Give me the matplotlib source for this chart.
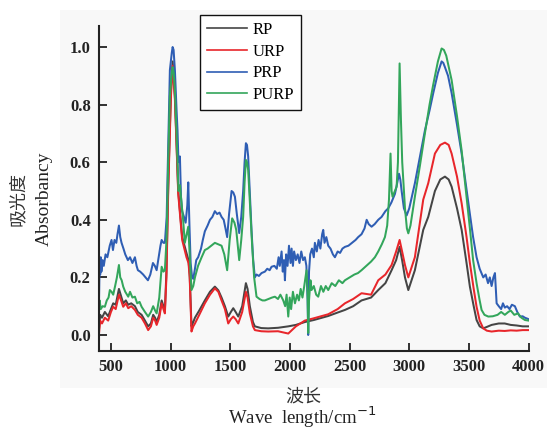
import matplotlib
matplotlib.use("Agg")
import matplotlib.pyplot as plt
from matplotlib.patches import Rectangle

# ---------------------------------------------------------------------------
# Data
# ---------------------------------------------------------------------------

rp_x = [400, 410, 425, 449, 477, 500, 519, 540, 567, 585, 603, 625, 645, 670, 701, 725,
        757, 785, 812, 835, 854, 870, 883, 905, 925, 940, 952, 965, 980, 1003, 1017, 1036,
        1064, 1097, 1133, 1150, 1160, 1175, 1190, 1204, 1240, 1287, 1330, 1371, 1400, 1427,
        1455, 1483, 1505, 1525, 1545, 1567, 1600, 1631, 1645, 1664, 1690, 1706, 1760, 1818,
        1900, 1986, 2050, 2125, 2200, 2321, 2400, 2461, 2530, 2600, 2680, 2740, 2800, 2852,
        2890, 2919, 2940, 2964, 2992, 3047, 3117, 3159, 3215, 3260, 3299, 3330, 3355, 3400,
        3439, 3480, 3508, 3540, 3564, 3590, 3620, 3650, 3690, 3750, 3800, 3850, 3900, 3950,
        4000]
rp_y = [0.02, 0.07, 0.06, 0.08, 0.065, 0.09, 0.11, 0.105, 0.16, 0.135, 0.11, 0.12, 0.105,
        0.11, 0.10, 0.08, 0.07, 0.05, 0.03, 0.04, 0.07, 0.06, 0.045, 0.07, 0.12, 0.10, 0.085,
        0.22, 0.52, 0.85, 0.95, 0.83, 0.50, 0.34, 0.285, 0.26, 0.21, 0.03, 0.045, 0.06, 0.085,
        0.12, 0.15, 0.168, 0.155, 0.13, 0.10, 0.064, 0.08, 0.093, 0.08, 0.064, 0.10, 0.18,
        0.16, 0.10, 0.045, 0.03, 0.024, 0.023, 0.025, 0.03, 0.035, 0.045, 0.052, 0.066,
        0.078, 0.087, 0.10, 0.12, 0.13, 0.156, 0.18, 0.225, 0.26, 0.306, 0.26, 0.20, 0.156,
        0.225, 0.365, 0.41, 0.50, 0.54, 0.55, 0.54, 0.515, 0.44, 0.365, 0.25, 0.168, 0.10,
        0.052, 0.03, 0.023, 0.028, 0.035, 0.04, 0.04, 0.035, 0.033, 0.03, 0.03]

urp_x = rp_x
urp_y = [0.005, 0.05, 0.04, 0.06, 0.05, 0.08, 0.098, 0.09, 0.14, 0.12, 0.098, 0.11, 0.093,
         0.10, 0.087, 0.07, 0.06, 0.04, 0.017, 0.03, 0.06, 0.05, 0.035, 0.06, 0.11, 0.09,
         0.075, 0.20, 0.50, 0.83, 0.935, 0.82, 0.49, 0.33, 0.27, 0.25, 0.20, 0.012, 0.03,
         0.04, 0.07, 0.11, 0.14, 0.162, 0.15, 0.12, 0.09, 0.04, 0.055, 0.064, 0.055, 0.04,
         0.08, 0.15, 0.13, 0.075, 0.03, 0.017, 0.013, 0.012, 0.013, 0.005, 0.03, 0.05, 0.058,
         0.072, 0.09, 0.11, 0.125, 0.145, 0.14, 0.19, 0.21, 0.243, 0.29, 0.33, 0.29, 0.243,
         0.20, 0.27, 0.47, 0.527, 0.63, 0.66, 0.668, 0.66, 0.63, 0.55, 0.457, 0.34, 0.25,
         0.16, 0.098, 0.05, 0.023, 0.015, 0.012, 0.015, 0.014, 0.016, 0.015, 0.017, 0.017]

prp_x = [400, 405, 410, 415, 420, 430, 440, 455, 470, 490, 505, 517, 530, 545, 555, 567,
         578, 589, 605, 620, 642, 660, 680, 701, 715, 726, 745, 770, 790, 810, 830, 852, 868,
         883, 900, 915, 925, 940, 952, 967, 980, 994, 1010, 1017, 1025, 1036, 1050, 1058,
         1066, 1078, 1087, 1097, 1112, 1126, 1140, 1148, 1158, 1168, 1180, 1190, 1204, 1215,
         1231, 1255, 1270, 1287, 1310, 1330, 1350, 1371, 1390, 1410, 1427, 1445, 1460, 1474,
         1490, 1511, 1525, 1539, 1555, 1575, 1592, 1608, 1620, 1631, 1640, 1650, 1665, 1678,
         1692, 1706, 1720, 1740, 1762, 1790, 1810, 1830, 1846, 1870, 1890, 1905, 1915, 1930,
         1940, 1950, 1958, 1968, 1980, 1992, 2005, 2014, 2025, 2035, 2050, 2065, 2080, 2095,
         2110, 2125, 2138, 2148, 2153, 2160, 2170, 2185, 2200, 2209, 2225, 2240, 2255, 2270,
         2279, 2290, 2305, 2321, 2340, 2360, 2377, 2400, 2420, 2440, 2461, 2490, 2520, 2550,
         2572, 2600, 2625, 2643, 2660, 2684, 2710, 2740, 2768, 2800, 2824, 2850, 2880, 2900,
         2914, 2925, 2936, 2955, 2978, 3000, 3047, 3090, 3131, 3170, 3201, 3240, 3271, 3285,
         3299, 3325, 3355, 3400, 3439, 3475, 3508, 3535, 3564, 3590, 3620, 3640, 3660, 3675,
         3690, 3705, 3718, 3725, 3732, 3750, 3770, 3785, 3801, 3820, 3840, 3860, 3885, 3905,
         3927, 3950, 3969, 4000]
prp_y = [0.12, 0.25, 0.21, 0.27, 0.22, 0.26, 0.24, 0.28, 0.27, 0.31, 0.33, 0.295, 0.33,
         0.32, 0.35, 0.38, 0.34, 0.32, 0.30, 0.28, 0.26, 0.27, 0.25, 0.27, 0.24, 0.225, 0.22,
         0.21, 0.20, 0.19, 0.21, 0.25, 0.24, 0.225, 0.27, 0.31, 0.33, 0.32, 0.32, 0.41, 0.65,
         0.92, 0.98, 1.0, 0.99, 0.92, 0.78, 0.71, 0.60, 0.62, 0.48, 0.43, 0.41, 0.39, 0.45,
         0.53, 0.38, 0.25, 0.20, 0.195, 0.23, 0.26, 0.27, 0.30, 0.33, 0.36, 0.38, 0.40, 0.41,
         0.43, 0.42, 0.425, 0.41, 0.40, 0.37, 0.34, 0.42, 0.50, 0.495, 0.48, 0.42, 0.354,
         0.41, 0.50, 0.60, 0.666, 0.66, 0.62, 0.48, 0.365, 0.26, 0.20, 0.21, 0.205, 0.215,
         0.22, 0.23, 0.225, 0.237, 0.24, 0.23, 0.27, 0.24, 0.29, 0.22, 0.26, 0.19, 0.28, 0.24,
         0.31, 0.25, 0.30, 0.24, 0.29, 0.26, 0.28, 0.25, 0.29, 0.26, 0.27, 0.24, 0.12, 0.0,
         0.22, 0.28, 0.30, 0.27, 0.32, 0.29, 0.33, 0.30, 0.35, 0.365, 0.32, 0.34, 0.31, 0.30,
         0.28, 0.27, 0.29, 0.285, 0.30, 0.306, 0.31, 0.32, 0.33, 0.34, 0.35, 0.37, 0.40, 0.385,
         0.376, 0.385, 0.40, 0.41, 0.43, 0.44, 0.46, 0.49, 0.53, 0.56, 0.54, 0.50, 0.44, 0.415,
         0.44, 0.527, 0.62, 0.71, 0.78, 0.84, 0.91, 0.95, 0.945, 0.93, 0.90, 0.84, 0.73, 0.63,
         0.52, 0.42, 0.34, 0.27, 0.23, 0.20, 0.21, 0.18, 0.20, 0.17, 0.20, 0.215, 0.16, 0.11,
         0.10, 0.09, 0.11, 0.095, 0.10, 0.09, 0.105, 0.10, 0.08, 0.064, 0.065, 0.06, 0.055]

purp_x = [400, 405, 415, 430, 449, 465, 480, 491, 505, 519, 535, 550, 567, 578, 590, 603,
          620, 645, 660, 680, 701, 720, 740, 757, 785, 812, 835, 854, 870, 883, 905, 925, 940,
          952, 967, 980, 994, 1010, 1017, 1026, 1036, 1050, 1058, 1066, 1078, 1091, 1105,
          1119, 1135, 1148, 1160, 1175, 1190, 1204, 1230, 1260, 1287, 1310, 1340, 1371, 1400,
          1427, 1450, 1474, 1495, 1516, 1535, 1550, 1575, 1592, 1608, 1620, 1631, 1640, 1650,
          1667, 1684, 1700, 1720, 1745, 1770, 1790, 1820, 1850, 1874, 1900, 1920, 1944, 1960,
          1972, 1986, 1998, 2010, 2025, 2042, 2060, 2075, 2090, 2105, 2120, 2139, 2148, 2153,
          2160, 2172, 2181, 2200, 2220, 2237, 2260, 2280, 2300, 2321, 2350, 2380, 2410, 2440,
          2461, 2500, 2540, 2570, 2600, 2640, 2680, 2712, 2740, 2770, 2796, 2815, 2830, 2843,
          2852, 2860, 2880, 2894, 2905, 2919, 2930, 2941, 2964, 2980, 2992, 3010, 3047, 3090,
          3131, 3170, 3201, 3240, 3271, 3290, 3310, 3355, 3400, 3439, 3475, 3508, 3535, 3564,
          3590, 3606, 3630, 3662, 3700, 3740, 3770, 3801, 3830, 3850, 3880, 3910, 3940, 3969,
          4000]
purp_y = [0.08, 0.12, 0.09, 0.10, 0.098, 0.12, 0.13, 0.156, 0.15, 0.14, 0.17, 0.20, 0.243,
          0.20, 0.19, 0.168, 0.15, 0.133, 0.15, 0.13, 0.133, 0.11, 0.115, 0.098, 0.08, 0.064,
          0.08, 0.10, 0.085, 0.075, 0.13, 0.237, 0.22, 0.225, 0.34, 0.60, 0.83, 0.91, 0.93,
          0.91, 0.85, 0.70, 0.60, 0.50, 0.52, 0.46, 0.40, 0.32, 0.35, 0.376, 0.28, 0.156, 0.17,
          0.20, 0.24, 0.27, 0.295, 0.30, 0.31, 0.32, 0.315, 0.31, 0.28, 0.225, 0.33, 0.405,
          0.39, 0.365, 0.26, 0.33, 0.41, 0.53, 0.608, 0.60, 0.573, 0.44, 0.306, 0.20, 0.133,
          0.125, 0.12, 0.12, 0.125, 0.13, 0.133, 0.125, 0.14, 0.12, 0.10, 0.14, 0.064, 0.13,
          0.09, 0.15, 0.11, 0.14, 0.12, 0.16, 0.13, 0.17, 0.225, 0.15, 0.007, 0.12, 0.19,
          0.156, 0.17, 0.14, 0.133, 0.17, 0.15, 0.17, 0.156, 0.18, 0.17, 0.19, 0.18, 0.19,
          0.20, 0.21, 0.215, 0.225, 0.24, 0.255, 0.27, 0.29, 0.315, 0.34, 0.38, 0.47, 0.63,
          0.50, 0.48, 0.50, 0.515, 0.60, 0.943, 0.75, 0.60, 0.44, 0.37, 0.353, 0.38, 0.48,
          0.59, 0.70, 0.80, 0.87, 0.95, 0.995, 0.99, 0.97, 0.885, 0.76, 0.64, 0.50, 0.37, 0.26,
          0.18, 0.12, 0.087, 0.07, 0.064, 0.065, 0.07, 0.08, 0.07, 0.08, 0.085, 0.07, 0.075,
          0.06, 0.052, 0.05]

labels = ["RP", "URP", "PRP", "PURP"]
colors = ["#454545", "#e8262b", "#2f5eb4", "#33a65b"]

x_ticks = [500, 1000, 1500, 2000, 2500, 3000, 3500, 4000]
y_ticks = [0.0, 0.2, 0.4, 0.6, 0.8, 1.0]

# ---------------------------------------------------------------------------
# Figure
# ---------------------------------------------------------------------------

SERIF = ["Liberation Serif", "DejaVu Serif"]
CJK = ["Noto Sans CJK SC", "DejaVu Sans"]

fig = plt.figure(figsize=(5.47, 4.32), dpi=100)
# light grey panel behind the plot (keep it under the axes)
fig.patches.append(Rectangle((60 / 547, 44 / 432), 1 - 60 / 547, 378 / 432,
                             transform=fig.transFigure, facecolor="#f8f8f8",
                             edgecolor="none", zorder=-10))

ax = fig.add_axes([99 / 547, 81 / 432, 429.6 / 547, 325 / 432])
ax.set_facecolor("none")

series = [(rp_x, rp_y), (urp_x, urp_y), (prp_x, prp_y), (purp_x, purp_y)]
for (xs, ys), lbl, c in zip(series, labels, colors):
    ax.plot(xs, ys, color=c, lw=1.45, label=lbl)

ax.set_xlim(400, 4000)
ax.set_ylim(-0.0556, 1.073)
ax.set_xticks(x_ticks)
ax.set_yticks(y_ticks)
ax.set_yticklabels([f"{v:.1f}" for v in y_ticks])

for side in ("top", "right"):
    ax.spines[side].set_visible(False)
for side in ("left", "bottom"):
    ax.spines[side].set_linewidth(1.5)
    ax.spines[side].set_color("#222222")

ax.tick_params(direction="in", length=6, width=1.3, color="#222222", pad=6)
for t in ax.get_xticklabels() + ax.get_yticklabels():
    t.set_family(SERIF)
    t.set_fontweight("bold")
    t.set_fontsize(12)
    t.set_color("#222222")

leg = ax.legend(loc="upper left", bbox_to_anchor=(200 / 547, 1 - 15 / 432),
                bbox_transform=fig.transFigure, borderaxespad=0,
                prop={"family": SERIF, "size": 12}, frameon=True, fancybox=False,
                framealpha=1, edgecolor="#111111", handlelength=2.4,
                handletextpad=0.35, labelspacing=0.35, borderpad=0.4)
leg.get_frame().set_linewidth(1.0)
for line in leg.get_lines():
    line.set_linewidth(1.2)

# axis titles (Chinese + English, two lines each)
fig.text(18 / 547, 1 - 199 / 432, "吸光度", rotation=90, ha="center", va="center",
         family=CJK, fontsize=13, color="#333333")
fig.text(44 / 547, 1 - 199 / 432, "Absorbancy", rotation=90, ha="center", va="center",
         family=SERIF, fontsize=14, color="#222222")
fig.text(303 / 547, 1 - 397 / 432, "波长", ha="center", va="center",
         family=CJK, fontsize=13, color="#333333")
fig.text(302 / 547, 1 - 417 / 432, "Wave  length/cm$^{-1}$", ha="center", va="center",
         family=SERIF, fontsize=13.5, color="#222222")

fig.savefig("out.png", dpi=100)
